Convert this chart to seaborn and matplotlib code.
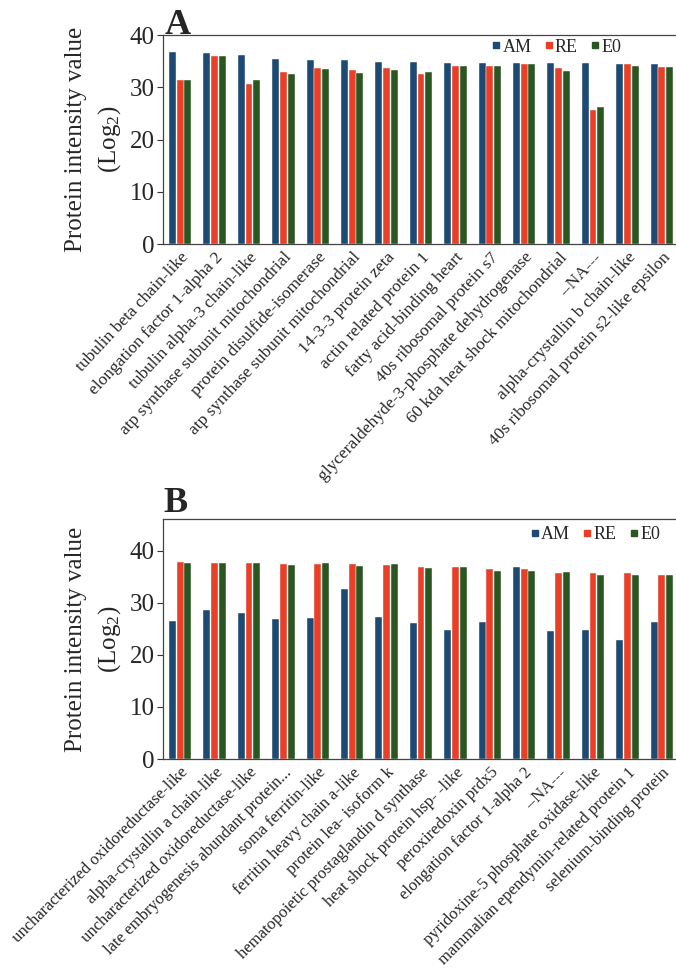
import matplotlib
matplotlib.use("Agg")
import matplotlib.pyplot as plt
import seaborn as sns
import pandas as pd
from matplotlib.lines import Line2D

# ---------------- data ----------------
groups = ["AM", "RE", "E0"]

cats_a = ["tubulin beta chain-like", "elongation factor 1-alpha 2",
          "tubulin alpha-3 chain-like", "atp synthase subunit mitochondrial",
          "protein disulfide-isomerase", "atp synthase subunit mitochondrial ",
          "14-3-3 protein zeta", "actin related protein 1",
          "fatty acid-binding heart", "40s ribosomal protein s7",
          "glyceraldehyde-3-phosphate dehydrogenase",
          "60 kda heat shock mitochondrial", "--NA---",
          "alpha-crystallin b chain-like",
          "40s ribosomal protein s2-like epsilon"]
am_a = [36.7, 36.6, 36.1, 35.5, 35.15, 35.15, 34.9, 34.9, 34.7, 34.7, 34.6, 34.6, 34.6, 34.5, 34.5]
re_a = [31.4, 36.0, 30.6, 32.9, 33.7, 33.3, 33.6, 32.6, 34.0, 34.1, 34.4, 33.75, 25.7, 34.45, 33.9]
e0_a = [31.45, 35.9, 31.3, 32.5, 33.55, 32.8, 33.3, 32.9, 34.0, 34.0, 34.5, 33.2, 26.15, 34.1, 33.9]

cats_b = ["uncharacterized oxidoreductase-like", "alpha-crystallin a chain-like",
          "uncharacterized oxidoreductase-like ", "late embryogenesis abundant protein...",
          "soma ferritin-like", "ferritin heavy chain a-like",
          "protein lea- isoform k", "hematopoietic prostaglandin d synthase",
          "heat shock protein hsp- -like", "peroxiredoxin prdx5",
          "elongation factor 1-alpha 2", "--NA---",
          "pyridoxine-5 phosphate oxidase-like",
          "mammalian ependymin-related protein 1", "selenium-binding protein"]
am_b = [26.6, 28.6, 28.0, 26.95, 27.1, 32.65, 27.3, 26.1, 24.7, 26.4, 36.9, 24.5, 24.7, 22.9, 26.3]
re_b = [37.8, 37.7, 37.7, 37.5, 37.45, 37.4, 37.26, 36.9, 36.9, 36.5, 36.4, 35.7, 35.7, 35.7, 35.3]
e0_b = [37.6, 37.7, 37.7, 37.2, 37.6, 37.0, 37.5, 36.6, 36.9, 36.2, 36.2, 36.0, 35.4, 35.3, 35.3]

colors = ["#1C4A73", "#EA3F27", "#2A5622"]

# ---------------- style ----------------
sns.set_style("white")
plt.rcParams["font.family"] = ["Liberation Serif", "DejaVu Serif"]
plt.rcParams["mathtext.fontset"] = "custom"
plt.rcParams["mathtext.rm"] = "Liberation Serif"
plt.rcParams["mathtext.it"] = "Liberation Serif:italic"


def long_df(cats, a, r, e):
    rows = []
    for c, v1, v2, v3 in zip(cats, a, r, e):
        rows += [(c, "AM", v1), (c, "RE", v2), (c, "E0", v3)]
    return pd.DataFrame(rows, columns=["protein", "group", "value"])


fig = plt.figure(figsize=(6.76, 9.71), dpi=100)
W, H = 676.0, 971.0


def panel(rect_px, cats, a, r, e, ymax, yticks, letter, letter_xy, leg_anchor,
          rot, xfs):
    l, t, rgt, b = rect_px
    ax = fig.add_axes([l / W, 1 - b / H, (rgt - l) / W, (b - t) / H])
    df = long_df(cats, a, r, e)
    sns.barplot(data=df, x="protein", y="value", hue="group", hue_order=groups,
                palette=colors, width=0.67, gap=0.1, ax=ax, legend=False,
                edgecolor="white", linewidth=0.3, errorbar=None, saturation=1)
    ax.set_xlim(-0.5, len(cats) - 0.5)
    ax.set_ylim(0, ymax)
    ax.set_yticks(yticks)
    ax.tick_params(axis="y", labelsize=18, length=4, width=0.8, color="#333333",
                   pad=2, direction="out", left=True)
    ax.tick_params(axis="x", length=0, pad=4)
    ax.set_xticks(range(len(cats)))
    ax.set_xticklabels([c.strip() for c in cats], rotation=rot, ha="right",
                       rotation_mode="anchor", fontsize=xfs)
    ax.set_xlabel("")
    ax.set_ylabel("Protein intensity value\n(Log$_2$)", fontsize=18,
                  linespacing=1.45, labelpad=5)
    for s in ax.spines.values():
        s.set_color("#444444")
        s.set_linewidth(0.9)
    handles = [Line2D([0], [0], marker="s", color="none", markerfacecolor=c,
                      markeredgecolor=c, markersize=5) for c in colors]
    ax.legend(handles, groups, loc="upper right", ncol=3, frameon=False,
              fontsize=13, handlelength=0.5, handletextpad=0.1, columnspacing=0.7,
              bbox_to_anchor=leg_anchor, borderaxespad=0, borderpad=0.2)
    fig.text(letter_xy[0] / W, 1 - letter_xy[1] / H, letter, fontsize=26,
             fontweight="bold", va="baseline", ha="left")
    return ax


panel((163, 35, 679, 244), cats_a, am_a, re_a, e0_a, 40, [0, 10, 20, 30, 40],
      "A", (165, 34), (0.895, 1.0), 47, 12.5)
panel((163, 519, 679, 759), cats_b, am_b, re_b, e0_b, 46.1, [0, 10, 20, 30, 40],
      "B", (163, 512), (0.97, 0.985), 45, 12)

fig.savefig("out.png", dpi=100)
